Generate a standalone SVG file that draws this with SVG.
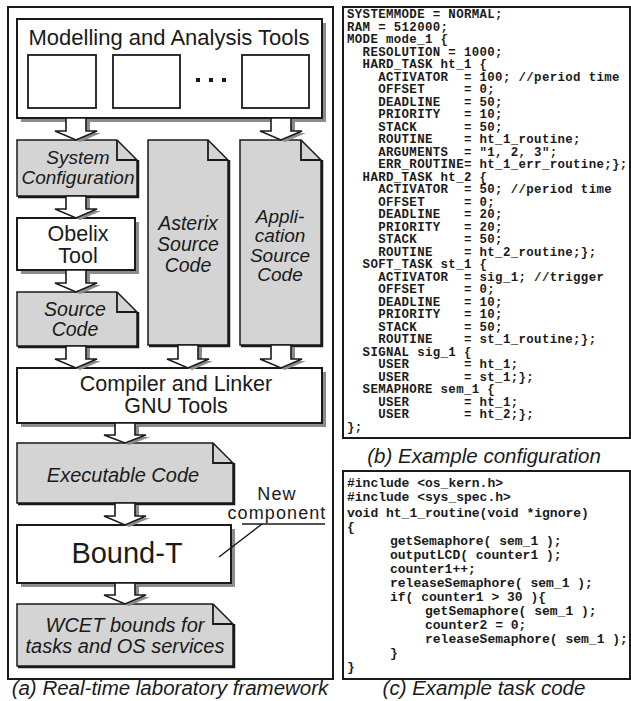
<svg xmlns="http://www.w3.org/2000/svg" width="631" height="701" viewBox="0 0 631 701">
<style>
.frame{fill:#fff;stroke:#1a1a1a;stroke-width:2}
.box{fill:#fff;stroke:#1a1a1a;stroke-width:2}
.sbox{fill:#fff;stroke:#1a1a1a;stroke-width:1.8}
.shadow{fill:#8c8c8c}
.doc{fill:#d4d4d4;stroke:#1a1a1a;stroke-width:1.5}
.docsh{fill:none;stroke:#1a1a1a;stroke-width:2.5}
.fold{fill:none;stroke:#1a1a1a;stroke-width:1.8}
.arr{fill:#fff;stroke:#1a1a1a;stroke-width:1.6;stroke-linejoin:miter}
.arrsh{fill:#8c8c8c}
.t{font-family:"Liberation Sans",Arial,sans-serif;fill:#1a1a1a;text-anchor:middle}
.i{font-style:italic}
.code{font-family:"Liberation Mono","Courier New",monospace;font-weight:bold;font-size:13px;fill:#1a1a1a;white-space:pre}
.cfg{font-size:12.4px;letter-spacing:0.36px}
.line{stroke:#1a1a1a;stroke-width:1.5;fill:none}
</style>

<!-- Panel (a) frame -->
<rect class="frame" x="8" y="7" width="325" height="672"/>

<g id="modelling">
<rect class="shadow" x="21" y="23" width="305" height="99"/>
<rect class="box" x="17" y="19" width="305" height="99"/>
<text class="t" x="169" y="45" font-size="22">Modelling and Analysis Tools</text>
<rect class="sbox" x="28" y="55" width="68" height="53"/>
<rect class="sbox" x="113" y="55" width="67" height="53"/>
<rect class="sbox" x="242" y="55" width="67" height="53"/>
<rect x="196" y="78" width="4" height="4" fill="#1a1a1a"/>
<rect x="209" y="78" width="4" height="4" fill="#1a1a1a"/>
<rect x="222" y="78" width="4" height="4" fill="#1a1a1a"/>
</g>

<g id="sysconfig">
<polyline class="docsh" points="138,160 138,197 18,197"/>
<path class="doc" d="M17,140 H117 L137,160 V196 H17 Z"/>
<path class="fold" d="M117,140 V160 H137"/>
<text class="t i" font-size="19"><tspan x="78" y="164">System</tspan><tspan x="78" y="184">Configuration</tspan></text>
</g>

<g id="asterix">
<polyline class="docsh" points="229,160 229,346 149,346"/>
<path class="doc" d="M148,140 H208 L228,160 V345 H148 Z"/>
<path class="fold" d="M208,140 V160 H228"/>
<text class="t i" font-size="19.5"><tspan x="188" y="230">Asterix</tspan><tspan x="188" y="251">Source</tspan><tspan x="188" y="272">Code</tspan></text>
</g>

<g id="application">
<polyline class="docsh" points="322,160 322,346 241,346"/>
<path class="doc" d="M240,140 H301 L321,160 V345 H240 Z"/>
<path class="fold" d="M301,140 V160 H321"/>
<text class="t i" font-size="19"><tspan x="280" y="222.5">Appli-</tspan><tspan x="280" y="242">cation</tspan><tspan x="280" y="261.5">Source</tspan><tspan x="280" y="281">Code</tspan></text>
</g>

<g id="obelix">
<rect class="shadow" x="21" y="222" width="118" height="52"/>
<rect class="box" x="17" y="218" width="118" height="52"/>
<text class="t" font-size="21.5"><tspan x="78" y="241">Obelix</tspan><tspan x="78" y="263">Tool</tspan></text>
</g>

<g id="sourcecode">
<polyline class="docsh" points="138,312 138,347 18,347"/>
<path class="doc" d="M17,292 H117 L137,312 V346 H17 Z"/>
<path class="fold" d="M117,292 V312 H137"/>
<text class="t i" font-size="19.5"><tspan x="75" y="316">Source</tspan><tspan x="75" y="336">Code</tspan></text>
</g>

<g id="compiler">
<rect class="shadow" x="21" y="372" width="305" height="55"/>
<rect class="box" x="17" y="368" width="305" height="55"/>
<text class="t" font-size="21.5"><tspan x="176" y="391">Compiler and Linker</tspan><tspan x="176" y="413">GNU Tools</tspan></text>
</g>

<g id="executable">
<polyline class="docsh" points="234,463 234,504 18,504"/>
<path class="doc" d="M17,443 H213 L233,463 V503 H17 Z"/>
<path class="fold" d="M213,443 V463 H233"/>
<text class="t i" x="123" y="482" font-size="20">Executable Code</text>
</g>

<g id="boundt">
<rect class="shadow" x="21" y="529" width="214" height="58"/>
<rect class="box" x="17" y="525" width="214" height="58"/>
<text class="t" x="127" y="563" font-size="29">Bound-T</text>
</g>

<g id="newcomponent">
<text class="t" font-size="18" letter-spacing="1.1"><tspan x="277" y="500">New</tspan><tspan x="277" y="519">component</tspan></text>
<line class="line" x1="242" y1="524" x2="325" y2="524"/>
<line class="line" x1="262" y1="524" x2="219" y2="557"/>
</g>

<g id="wcet">
<polyline class="docsh" points="234,624 234,667 18,667"/>
<path class="doc" d="M17,604 H213 L233,624 V666 H17 Z"/>
<path class="fold" d="M213,604 V624 H233"/>
<text class="t i" font-size="20"><tspan x="125" y="632">WCET bounds for</tspan><tspan x="125" y="653">tasks and OS services</tspan></text>
</g>

<g id="connectors">
<path class="arrsh" d="M70,120 H90 V133 H101 L80,142 L59,133 H70 Z"/>
<path class="arr" d="M66,118 H86 V131 H97 L76,140 L55,131 H66 Z"/>
<path class="arrsh" d="M275,120 H295 V133 H306 L285,142 L264,133 H275 Z"/>
<path class="arr" d="M271,118 H291 V131 H302 L281,140 L260,131 H271 Z"/>
<path class="arrsh" d="M70,198 H90 V211 H101 L80,220 L59,211 H70 Z"/>
<path class="arr" d="M66,196 H86 V209 H97 L76,218 L55,209 H66 Z"/>
<path class="arrsh" d="M70,272 H90 V285 H101 L80,294 L59,285 H70 Z"/>
<path class="arr" d="M66,270 H86 V283 H97 L76,292 L55,283 H66 Z"/>
<path class="arrsh" d="M70,348 H90 V361 H101 L80,370 L59,361 H70 Z"/>
<path class="arr" d="M66,346 H86 V359 H97 L76,368 L55,359 H66 Z"/>
<path class="arrsh" d="M182,347 H202 V361 H213 L192,370 L171,361 H182 Z"/>
<path class="arr" d="M178,345 H198 V359 H209 L188,368 L167,359 H178 Z"/>
<path class="arrsh" d="M275,347 H295 V361 H306 L285,370 L264,361 H275 Z"/>
<path class="arr" d="M271,345 H291 V359 H302 L281,368 L260,359 H271 Z"/>
<path class="arrsh" d="M119,425 H139 V437 H150 L129,445 L108,437 H119 Z"/>
<path class="arr" d="M115,423 H135 V435 H146 L125,443 L104,435 H115 Z"/>
<path class="arrsh" d="M119,505 H139 V518 H150 L129,527 L108,518 H119 Z"/>
<path class="arr" d="M115,503 H135 V516 H146 L125,525 L104,516 H115 Z"/>
<path class="arrsh" d="M119,585 H139 V597 H150 L129,606 L108,597 H119 Z"/>
<path class="arr" d="M115,583 H135 V595 H146 L125,604 L104,595 H115 Z"/>
</g>

<text class="t i" x="170" y="695" font-size="20.5">(a) Real-time laboratory framework</text>

<!-- Panel (b) -->
<g id="config">
<rect class="frame" x="343" y="7" width="287" height="431"/>
<text class="code cfg"><tspan x="347" y="18">SYSTEMMODE = NORMAL;</tspan><tspan x="347" y="30.5">RAM = 512000;</tspan><tspan x="347" y="43">MODE mode_1 {</tspan><tspan x="347" y="55.5">  RESOLUTION = 1000;</tspan><tspan x="347" y="68">  HARD_TASK ht_1 {</tspan><tspan x="347" y="80.5">    ACTIVATOR  = 100; //period time</tspan><tspan x="347" y="93">    OFFSET     = 0;</tspan><tspan x="347" y="105.5">    DEADLINE   = 50;</tspan><tspan x="347" y="118">    PRIORITY   = 10;</tspan><tspan x="347" y="130.5">    STACK      = 50;</tspan><tspan x="347" y="143">    ROUTINE    = ht_1_routine;</tspan><tspan x="347" y="155.5">    ARGUMENTS  = "1, 2, 3";</tspan><tspan x="347" y="168">    ERR_ROUTINE= ht_1_err_routine;};</tspan><tspan x="347" y="180.5">  HARD_TASK ht_2 {</tspan><tspan x="347" y="193">    ACTIVATOR  = 50; //period time</tspan><tspan x="347" y="205.5">    OFFSET     = 0;</tspan><tspan x="347" y="218">    DEADLINE   = 20;</tspan><tspan x="347" y="230.5">    PRIORITY   = 20;</tspan><tspan x="347" y="243">    STACK      = 50;</tspan><tspan x="347" y="255.5">    ROUTINE    = ht_2_routine;};</tspan><tspan x="347" y="268">  SOFT_TASK st_1 {</tspan><tspan x="347" y="280.5">    ACTIVATOR  = sig_1; //trigger</tspan><tspan x="347" y="293">    OFFSET     = 0;</tspan><tspan x="347" y="305.5">    DEADLINE   = 10;</tspan><tspan x="347" y="318">    PRIORITY   = 10;</tspan><tspan x="347" y="330.5">    STACK      = 50;</tspan><tspan x="347" y="343">    ROUTINE    = st_1_routine;};</tspan><tspan x="347" y="355.5">  SIGNAL sig_1 {</tspan><tspan x="347" y="368">    USER       = ht_1;</tspan><tspan x="347" y="380.5">    USER       = st_1;};</tspan><tspan x="347" y="393">  SEMAPHORE sem_1 {</tspan><tspan x="347" y="405.5">    USER       = ht_1;</tspan><tspan x="347" y="418">    USER       = ht_2;};</tspan><tspan x="347" y="430.5">};</tspan></text>
</g>
<text class="t i" x="484" y="463" font-size="20.5">(b) Example configuration</text>

<!-- Panel (c) -->
<g id="taskcode">
<rect class="frame" x="343" y="471" width="287" height="208"/>
<text class="code"><tspan x="347" y="487">#include &lt;os_kern.h&gt;</tspan><tspan x="347" y="501">#include &lt;sys_spec.h&gt;</tspan><tspan x="347" y="517">void ht_1_routine(void *ignore)</tspan><tspan x="347" y="531">{</tspan><tspan x="390" y="545">getSemaphore( sem_1 );</tspan><tspan x="390" y="559">outputLCD( counter1 );</tspan><tspan x="390" y="573">counter1++;</tspan><tspan x="390" y="587">releaseSemaphore( sem_1 );</tspan><tspan x="390" y="601">if( counter1 &gt; 30 ){</tspan><tspan x="425" y="615">getSemaphore( sem_1 );</tspan><tspan x="425" y="629">counter2 = 0;</tspan><tspan x="425" y="643">releaseSemaphore( sem_1 );</tspan><tspan x="390" y="657">}</tspan><tspan x="347" y="671">}</tspan></text>
</g>
<text class="t i" x="484" y="695" font-size="20.5">(c) Example task code</text>
</svg>
